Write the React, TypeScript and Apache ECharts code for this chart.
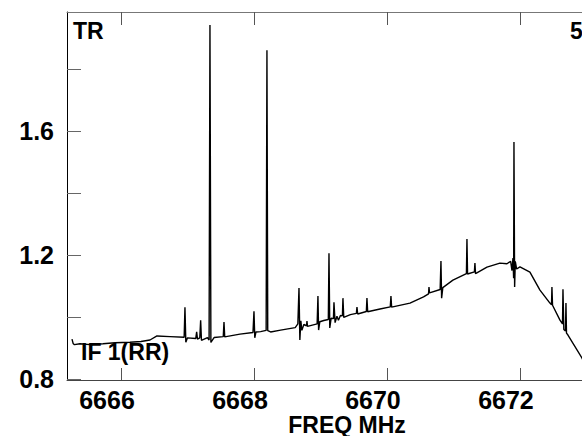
import React, { useEffect, useRef } from "react";
import * as echarts from "echarts";

const xTicks = [6666, 6668, 6670, 6672];
const yTicks = [0.8, 1.0, 1.2, 1.4, 1.6, 1.8];
const yLabels = [0.8, 1.2, 1.6];

// [frequency MHz, flux]
const spectrum: [number, number][] = [
  [6665.263, 0.929], [6665.28, 0.915], [6665.3, 0.911], [6665.383, 0.914],
  [6665.534, 0.911], [6665.729, 0.914], [6665.91, 0.917], [6666.135, 0.919],
  [6666.3, 0.921], [6666.436, 0.926], [6666.541, 0.939], [6666.737, 0.937],
  [6666.95, 0.935], [6666.962, 1.032], [6666.975, 0.919], [6667.0, 0.933],
  [6667.125, 0.931], [6667.138, 0.952], [6667.15, 0.929], [6667.185, 0.933],
  [6667.198, 0.99], [6667.21, 0.925], [6667.3, 0.934], [6667.325, 0.926],
  [6667.338, 1.942], [6667.352, 0.918], [6667.4, 0.934], [6667.538, 0.937],
  [6667.549, 0.984], [6667.56, 0.936], [6667.789, 0.945], [6667.985, 0.95],
  [6668.0, 1.019], [6668.012, 0.933], [6668.03, 0.952], [6668.1, 0.953],
  [6668.183, 0.957], [6668.195, 1.861], [6668.207, 0.956], [6668.25, 0.952],
  [6668.4, 0.958], [6668.62, 0.966], [6668.66, 0.978], [6668.677, 1.094],
  [6668.69, 0.926], [6668.705, 0.988], [6668.72, 0.957], [6668.75, 0.976],
  [6668.79, 0.972], [6668.797, 0.987], [6668.805, 0.97], [6668.95, 0.978],
  [6668.962, 1.068], [6668.972, 0.958], [6668.99, 0.985], [6669.05, 0.989],
  [6669.118, 0.992], [6669.128, 1.206], [6669.14, 0.965], [6669.16, 0.996],
  [6669.195, 0.995], [6669.203, 1.048], [6669.22, 0.982], [6669.248, 1.003],
  [6669.27, 0.99], [6669.3, 1.005], [6669.33, 1.004], [6669.338, 1.061],
  [6669.35, 0.999], [6669.45, 1.008], [6669.54, 1.012], [6669.549, 1.032],
  [6669.56, 1.01], [6669.69, 1.018], [6669.699, 1.061], [6669.71, 1.017],
  [6669.895, 1.026], [6670.05, 1.033], [6670.06, 1.068], [6670.07, 1.032],
  [6670.346, 1.045], [6670.55, 1.065], [6670.625, 1.075], [6670.632, 1.097],
  [6670.64, 1.078], [6670.8, 1.089], [6670.812, 1.181], [6670.822, 1.061],
  [6670.84, 1.095], [6670.992, 1.119], [6671.195, 1.14], [6671.203, 1.252],
  [6671.212, 1.139], [6671.315, 1.146], [6671.323, 1.174], [6671.332, 1.14],
  [6671.504, 1.161], [6671.699, 1.174], [6671.805, 1.172], [6671.86, 1.18],
  [6671.88, 1.15], [6671.895, 1.19], [6671.905, 1.125], [6671.91, 1.565],
  [6671.92, 1.097], [6671.93, 1.18], [6671.95, 1.155], [6672.0, 1.162],
  [6672.15, 1.145], [6672.301, 1.087], [6672.451, 1.045], [6672.475, 1.04],
  [6672.481, 1.097], [6672.49, 1.038], [6672.602, 0.99], [6672.64, 0.978],
  [6672.647, 1.09], [6672.66, 0.96], [6672.685, 0.955], [6672.692, 1.045],
  [6672.7, 0.948], [6672.722, 0.942], [6672.932, 0.868], [6673.05, 0.815],
];

const FONT = '"Liberation Sans", Arial, sans-serif';

export default function App() {
  const ref = useRef<HTMLDivElement>(null);
  useEffect(() => {
    if (!ref.current) return;
    const chart = echarts.init(ref.current, null, { renderer: "svg" });
    const xMin = 6665.188;
    const xMax = 6673.61;
    chart.setOption({
      animation: false,
      backgroundColor: "#fff",
      grid: { left: 67, top: 12, width: 560, height: 368, outerBoundsMode: "none", containLabel: false },
      xAxis: [
        {
          type: "value",
          position: "bottom",
          min: xMin,
          max: xMax,
          axisLine: { show: true, lineStyle: { color: "#444", width: 1 } },
          axisTick: { show: true, inside: true, length: 12, customValues: xTicks, lineStyle: { color: "#555" } },
          axisLabel: {
            customValues: xTicks,
            formatter: (v: number) => String(v),
            fontSize: 25,
            lineHeight: 20,
            fontWeight: "bold",
            fontFamily: FONT,
            color: "#000",
            margin: 9.5,
            padding: [0, 28, 0, 0],
          },
          splitLine: { show: false },
        },
        {
          type: "value",
          position: "top",
          min: xMin,
          max: xMax,
          axisLine: { show: true, lineStyle: { color: "#777", width: 1 } },
          axisTick: { show: true, inside: true, length: 13, customValues: xTicks, lineStyle: { color: "#555" } },
          axisLabel: { show: false },
          splitLine: { show: false },
        },
      ],
      yAxis: {
        type: "value",
        min: 0.797,
        max: 1.984,
        axisLine: { show: true, lineStyle: { color: "#000", width: 1 } },
        axisTick: { show: true, inside: true, length: 14, customValues: yTicks, lineStyle: { color: "#666" } },
        axisLabel: {
          customValues: yLabels,
          formatter: (v: number) => v.toFixed(1),
          fontSize: 25,
          fontWeight: "bold",
          fontFamily: FONT,
          color: "#000",
          margin: 13,
        },
        splitLine: { show: false },
      },
      series: [
        {
          type: "line",
          xAxisIndex: 0,
          data: spectrum,
          symbol: "none",
          showSymbol: false,
          lineStyle: { color: "#000", width: 1.4 },
        },
      ],
      graphic: [
        { type: "text", x: 73, y: 19, style: { text: "TR", font: `bold 23px ${FONT}`, fill: "#000", verticalAlign: "top", align: "left" } },
        { type: "text", x: 570, y: 19, style: { text: "5", font: `bold 23px ${FONT}`, fill: "#000", verticalAlign: "top", align: "left" } },
        { type: "text", x: 81, y: 340, style: { text: "IF 1(RR)", font: `bold 23px ${FONT}`, fill: "#000", verticalAlign: "top", align: "left" } },
        { type: "text", x: 347, y: 413, style: { text: "FREQ MHz", font: `bold 23px ${FONT}`, fill: "#000", verticalAlign: "top", align: "center" } },
      ],
    });
    return () => chart.dispose();
  }, []);
  return <div ref={ref} style={{ position: "absolute", left: 0, top: 0, width: 582, height: 436 }} />;
}
